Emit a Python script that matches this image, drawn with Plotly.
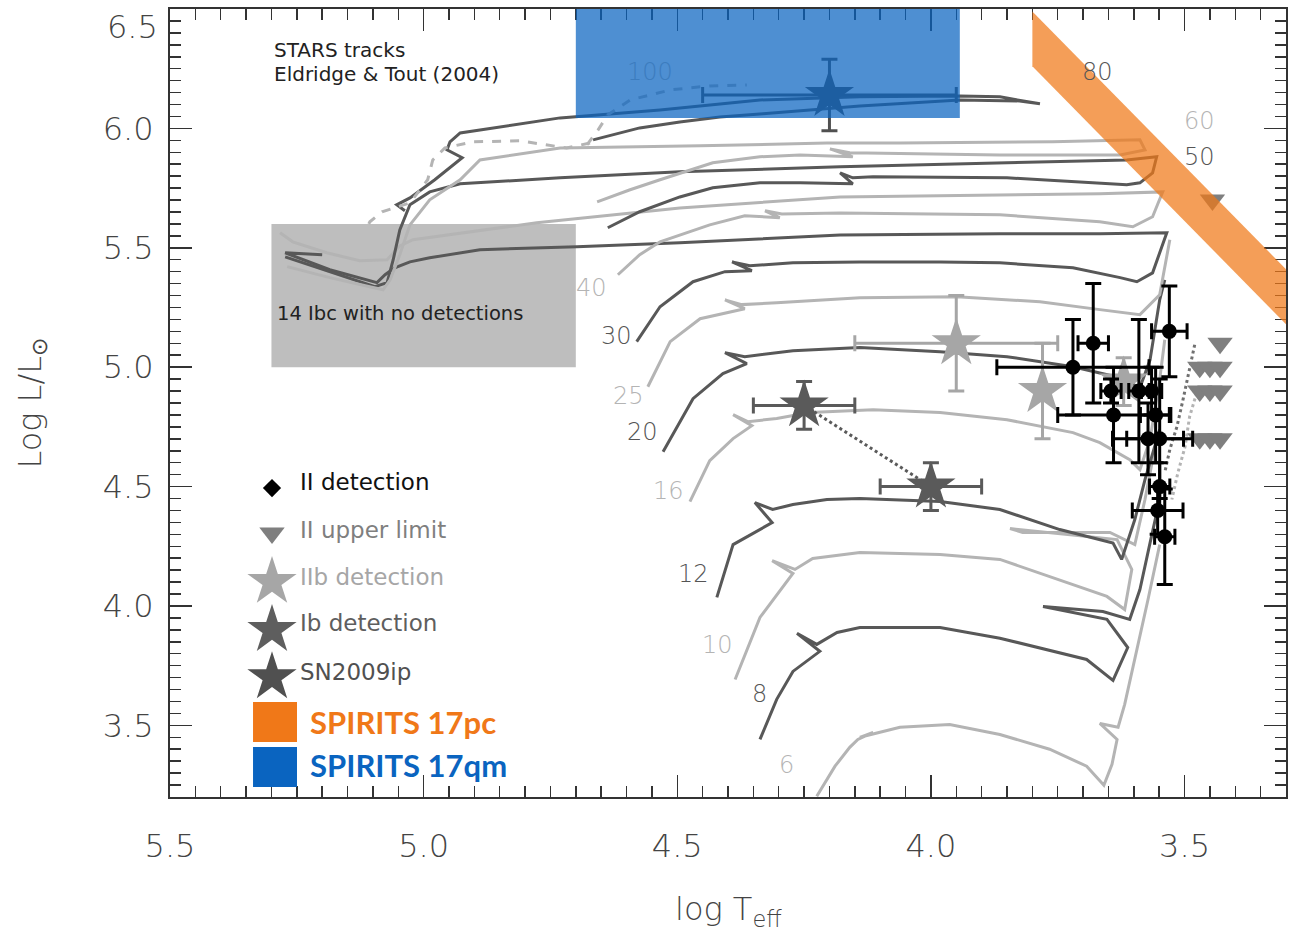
import plotly.graph_objects as go

# ---------------- data ----------------
X_TICKS = [5.5, 5.0, 4.5, 4.0, 3.5]
Y_TICKS = [3.5, 4.0, 4.5, 5.0, 5.5, 6.0]
TOP_Y_LABEL = "6.5"

# STARS evolutionary tracks (log Teff, log L/Lsun), Eldridge & Tout (2004)
M6_T = [4.225, 4.189, 4.160, 4.144, 4.114, 4.140, 4.061, 3.963, 3.864, 3.766, 3.693, 3.659, 3.643, 3.633, 3.667, 3.631, 3.618, 3.598, 3.572, 3.549]
M6_L = [3.203, 3.329, 3.408, 3.441, 3.471, 3.450, 3.492, 3.504, 3.462, 3.400, 3.329, 3.249, 3.337, 3.441, 3.508, 3.492, 3.588, 3.776, 4.027, 4.257]

M8_T = [4.337, 4.304, 4.272, 4.219, 4.264, 4.225, 4.185, 4.140, 3.982, 3.864, 3.693, 3.641, 3.612, 3.653, 3.779, 3.661, 3.608, 3.588, 3.568, 3.549]
M8_L = [3.441, 3.609, 3.726, 3.810, 3.885, 3.839, 3.889, 3.910, 3.910, 3.865, 3.776, 3.688, 3.826, 3.944, 3.998, 3.977, 3.944, 4.069, 4.264, 4.446]

M10_T = [4.386, 4.337, 4.272, 4.313, 4.268, 4.233, 4.140, 3.982, 3.864, 3.653, 3.618, 3.604, 3.633, 3.844, 3.819, 3.647, 3.598, 3.578, 3.559]
M10_L = [3.692, 3.952, 4.136, 4.190, 4.153, 4.199, 4.224, 4.216, 4.195, 4.040, 3.985, 4.153, 4.278, 4.324, 4.308, 4.308, 4.257, 4.446, 4.655]

M12_T = [4.422, 4.390, 4.313, 4.347, 4.312, 4.272, 4.205, 4.140, 3.982, 3.864, 3.746, 3.641, 3.624, 3.598, 3.578, 3.549]
M12_L = [4.036, 4.257, 4.349, 4.433, 4.404, 4.425, 4.446, 4.450, 4.437, 4.404, 4.320, 4.264, 4.195, 4.362, 4.529, 4.739]

M16_T = [4.475, 4.436, 4.390, 4.353, 4.390, 4.361, 4.304, 4.239, 4.114, 3.982, 3.850, 3.720, 3.667, 3.608, 3.588, 3.568, 3.549, 3.539]
M16_L = [4.437, 4.609, 4.701, 4.755, 4.801, 4.772, 4.785, 4.810, 4.822, 4.810, 4.780, 4.726, 4.684, 4.613, 4.571, 4.697, 4.948, 5.115]

M20_T = [4.528, 4.469, 4.410, 4.363, 4.406, 4.367, 4.272, 4.140, 3.982, 3.850, 3.720, 3.627, 3.588, 3.568, 3.549, 3.539]
M20_L = [4.646, 4.868, 4.973, 5.015, 5.061, 5.044, 5.069, 5.082, 5.065, 5.044, 5.002, 4.956, 4.914, 5.031, 5.282, 5.366]

M25_T = [4.558, 4.514, 4.455, 4.367, 4.406, 4.373, 4.304, 4.140, 3.949, 3.785, 3.667, 3.588, 3.549, 3.529]
M25_L = [4.918, 5.107, 5.203, 5.245, 5.282, 5.262, 5.270, 5.291, 5.295, 5.274, 5.241, 5.220, 5.303, 5.534]

M30_T = [4.580, 4.534, 4.469, 4.406, 4.353, 4.392, 4.357, 4.272, 4.140, 3.982, 3.864, 3.720, 3.627, 3.594, 3.563, 3.535,
         3.667, 3.864, 4.179, 4.495, 4.698, 4.889, 4.988, 5.027, 5.057, 5.076, 5.092, 5.185, 5.273, 5.200]
M30_L = [5.107, 5.253, 5.358, 5.400, 5.404, 5.441, 5.425, 5.437, 5.441, 5.441, 5.437, 5.416, 5.375, 5.358, 5.395, 5.563,
         5.559, 5.559, 5.554, 5.521, 5.504, 5.492, 5.458, 5.441, 5.416, 5.387, 5.354, 5.408, 5.479, 5.471]

M40_T = [4.617, 4.574, 4.534, 4.436, 4.367, 4.298, 4.327, 4.294, 4.179, 3.864, 3.667, 3.602, 3.563, 3.543,
         3.667, 3.864, 4.179, 4.495, 4.777, 5.021, 5.047, 5.072, 5.126, 5.191, 5.258, 5.283]
M40_L = [5.387, 5.471, 5.525, 5.596, 5.634, 5.626, 5.655, 5.642, 5.646, 5.638, 5.609, 5.588, 5.630, 5.734,
         5.726, 5.722, 5.713, 5.667, 5.605, 5.534, 5.508, 5.450, 5.446, 5.479, 5.525, 5.563]

M50_T = [4.637, 4.574, 4.495, 4.430, 4.337, 4.258, 4.154, 4.179, 4.154, 4.114, 3.850, 3.614, 3.588, 3.563, 3.555,
         3.614, 3.850, 4.179, 4.495, 4.731, 4.928, 4.988, 5.027, 5.047, 5.060, 5.072, 5.096, 5.244, 5.273]
M50_L = [5.584, 5.651, 5.713, 5.751, 5.772, 5.772, 5.768, 5.814, 5.793, 5.797, 5.793, 5.764, 5.772, 5.814, 5.881,
         5.868, 5.856, 5.839, 5.818, 5.793, 5.768, 5.734, 5.680, 5.575, 5.450, 5.354, 5.337, 5.441, 5.462]

M60_T = [4.658, 4.593, 4.534, 4.430, 4.337, 4.258, 4.154, 4.199, 4.160, 3.864, 3.627, 3.578, 3.588,
         3.760, 4.061, 4.205, 4.455, 4.731, 4.889, 4.928, 4.988, 5.027, 5.047, 5.066, 5.080, 5.185, 5.269]
M60_L = [5.692, 5.743, 5.785, 5.856, 5.881, 5.889, 5.881, 5.914, 5.898, 5.889, 5.889, 5.910, 5.952,
         5.944, 5.939, 5.939, 5.927, 5.918, 5.868, 5.785, 5.701, 5.596, 5.471, 5.366, 5.324, 5.375, 5.421]

M80_T = [4.666, 4.574, 4.495, 4.416, 4.331, 4.140, 3.943, 3.825, 3.785,
         3.864, 3.943, 4.140, 4.337, 4.534, 4.731, 4.928, 4.948, 4.954, 4.924, 4.978, 5.027, 5.053, 5.037]
M80_L = [5.952, 6.002, 6.027, 6.048, 6.061, 6.094, 6.119, 6.115, 6.103,
         6.132, 6.136, 6.132, 6.119, 6.077, 6.044, 5.981, 5.944, 5.910, 5.877, 5.785, 5.709, 5.680, 5.655]

M100A_T = [4.678, 4.656, 4.637, 4.593, 4.514, 4.436, 4.363]
M100A_L = [5.931, 5.994, 6.057, 6.119, 6.161, 6.178, 6.182]
M100B_T = [4.672, 4.718, 4.810, 4.903, 4.958, 4.982, 4.992, 5.027, 5.082, 5.106, 5.116]
M100B_L = [5.939, 5.918, 5.948, 5.944, 5.918, 5.868, 5.785, 5.688, 5.651, 5.609, 5.567]

# track mass labels (text, logT, logL, shade)
LABEL_TEXT = ["100", "80", "60", "50", "40", "30", "25", "20", "16", "12", "10", "8", "6"]
LABEL_T = [4.554, 3.671, 3.470, 3.470, 4.670, 4.619, 4.597, 4.568, 4.518, 4.469, 4.420, 4.337, 4.284]
LABEL_L = [6.236, 6.236, 6.031, 5.881, 5.333, 5.132, 4.881, 4.730, 4.483, 4.132, 3.835, 3.630, 3.333]
LABEL_SHADE = ["blue", "dark", "light", "dark", "light", "dark", "light", "dark", "light", "dark", "light", "dark", "light"]

# SN II progenitor detections
II_T = [3.72, 3.68, 3.53, 3.645, 3.59, 3.64, 3.565, 3.557, 3.572, 3.549, 3.549, 3.553, 3.539]
II_L = [5.00, 5.10, 5.15, 4.90, 4.90, 4.80, 4.90, 4.80, 4.70, 4.70, 4.50, 4.40, 4.29]
II_TERR = [0.15, 0.03, 0.035, 0.02, 0.02, 0.11, 0.02, 0.03, 0.07, 0.065, 0.02, 0.05, 0.02]
II_LERR = [0.20, 0.25, 0.19, 0.05, 0.30, 0.20, 0.10, 0.20, 0.15, 0.25, 0.10, 0.10, 0.20]

# SN II upper limits
UL_T = [3.445, 3.43, 3.47, 3.45, 3.43, 3.47, 3.45, 3.43, 3.47, 3.45, 3.43]
UL_L = [5.70, 5.10, 5.00, 5.00, 5.00, 4.90, 4.90, 4.90, 4.70, 4.70, 4.70]

# dotted connectors near the upper limits
DOTA_T = [3.480, 3.490, 3.503, 3.515, 3.529, 3.539]
DOTA_L = [5.094, 4.990, 4.864, 4.751, 4.655, 4.559]
DOTB_T = [3.476, 3.490, 3.499, 3.513, 3.525]
DOTB_L = [4.893, 4.793, 4.667, 4.559, 4.446]

# SN IIb detections
IIB_T = [3.95, 3.78, 3.62]
IIB_L = [5.10, 4.90, 4.94]
IIB_TERR = [0.20, 0.0, 0.0]
IIB_LERR = [0.20, 0.20, 0.10]

# SN Ib detection (two solutions joined by dotted line)
IB_T = [4.25, 4.00]
IB_L = [4.84, 4.50]
IB_TERR = [0.10, 0.10]
IB_LERR = [0.10, 0.10]

# SN2009ip
IP_T = [4.20]
IP_L = [6.14]
IP_TERR = [0.25]
IP_LERR = [0.15]

# constraint regions
IBC_BOX_T = [5.30, 4.70]
IBC_BOX_L = [5.00, 5.60]
QM_BOX_T = [4.70, 3.943]
QM_BOX_L = [6.044, 6.50]
PC_BAND_T = [3.80, 3.30, 3.30, 3.80]
PC_BAND_L = [6.49, 5.41, 5.18, 6.26]

# ---------------- style ----------------
LIGHT = "#b4b4b4"
DARK = "#585858"
FONT = "DejaVu Sans"
ORANGE = "#f07818"
BLUE = "#0a64c0"
STAR_SIZE = 37

fig = go.Figure()

tracks = [
    (M6_T, M6_L, LIGHT, "solid"), (M8_T, M8_L, DARK, "solid"),
    (M10_T, M10_L, LIGHT, "solid"), (M12_T, M12_L, DARK, "solid"),
    (M16_T, M16_L, LIGHT, "solid"), (M20_T, M20_L, DARK, "solid"),
    (M25_T, M25_L, LIGHT, "solid"), (M30_T, M30_L, DARK, "solid"),
    (M40_T, M40_L, LIGHT, "solid"), (M50_T, M50_L, DARK, "solid"),
    (M60_T, M60_L, LIGHT, "solid"), (M80_T, M80_L, DARK, "solid"),
    (M100A_T, M100A_L, LIGHT, "dash"), (M100B_T, M100B_L, LIGHT, "dash"),
]
for t, l, c, d in tracks:
    fig.add_trace(go.Scatter(x=t, y=l, mode="lines", line=dict(color=c, width=3, dash=d),
                             hoverinfo="skip", showlegend=False))

# dotted connectors
fig.add_trace(go.Scatter(x=DOTA_T, y=DOTA_L, mode="lines", line=dict(color="#707070", width=3, dash="dot"), showlegend=False))
fig.add_trace(go.Scatter(x=DOTB_T, y=DOTB_L, mode="lines", line=dict(color="#b4b4b4", width=3, dash="dot"), showlegend=False))
fig.add_trace(go.Scatter(x=IB_T, y=IB_L, mode="lines", line=dict(color="#5a5a5a", width=3, dash="dot"), showlegend=False))

# upper limits
fig.add_trace(go.Scatter(x=UL_T, y=UL_L, mode="markers",
                         marker=dict(symbol="triangle-down", size=22, color="#7f7f7f", line=dict(width=0)),
                         showlegend=False))

# IIb
fig.add_trace(go.Scatter(x=IIB_T, y=IIB_L, mode="markers",
                         marker=dict(symbol="star", size=STAR_SIZE, color="#a6a6a6", line=dict(width=0)),
                         error_x=dict(type="data", array=IIB_TERR, color="#a6a6a6", thickness=3, width=8),
                         error_y=dict(type="data", array=IIB_LERR, color="#a6a6a6", thickness=3, width=8),
                         showlegend=False))
# Ib
fig.add_trace(go.Scatter(x=IB_T, y=IB_L, mode="markers",
                         marker=dict(symbol="star", size=STAR_SIZE, color="#5a5a5a", line=dict(width=0)),
                         error_x=dict(type="data", array=IB_TERR, color="#5a5a5a", thickness=3, width=8),
                         error_y=dict(type="data", array=IB_LERR, color="#5a5a5a", thickness=3, width=8),
                         showlegend=False))
# SN2009ip
fig.add_trace(go.Scatter(x=IP_T, y=IP_L, mode="markers",
                         marker=dict(symbol="star", size=STAR_SIZE, color="#505050", line=dict(width=0)),
                         error_x=dict(type="data", array=IP_TERR, color="#505050", thickness=3, width=8),
                         error_y=dict(type="data", array=IP_LERR, color="#505050", thickness=3, width=8),
                         showlegend=False))
# II detections
fig.add_trace(go.Scatter(x=II_T, y=II_L, mode="markers",
                         marker=dict(symbol="circle", size=15, color="black", line=dict(width=0)),
                         error_x=dict(type="data", array=II_TERR, color="black", thickness=3, width=8),
                         error_y=dict(type="data", array=II_LERR, color="black", thickness=3, width=8),
                         showlegend=False))

# ---------------- legend (manual, overlay axes in plot-fraction units) ----------------
LEG_X = 0.0914
LEG_TEXT_X = 0.1147
legend_rows = [
    ("II detection", "diamond", 14, "black", "#111111", 0.392, 0.400),
    ("II upper limit", "triangle-down", 22, "#7f7f7f", "#7f7f7f", 0.335, 0.339),
    ("IIb detection", "star", STAR_SIZE, "#a6a6a6", "#a6a6a6", 0.273, 0.279),
    ("Ib detection", "star", STAR_SIZE, "#5e5e5e", "#5e5e5e", 0.212, 0.221),
    ("SN2009ip", "star", STAR_SIZE, "#505050", "#505050", 0.152, 0.159),
]
for text, sym, sz, mcol, tcol, ym, yt in legend_rows:
    fig.add_trace(go.Scatter(x=[LEG_X], y=[ym], xaxis="x2", yaxis="y2", mode="markers",
                             marker=dict(symbol=sym, size=sz, color=mcol, line=dict(width=0)),
                             showlegend=False, hoverinfo="skip"))

annotations = []
for text, sym, sz, mcol, tcol, ym, yt in legend_rows:
    annotations.append(dict(text=text, x=LEG_TEXT_X, y=yt, xref="paper", yref="paper",
                            xanchor="left", yanchor="middle", showarrow=False,
                            font=dict(family=FONT, size=23, color=tcol, weight=400)))
annotations.append(dict(text="<b>SPIRITS 17pc</b>", x=0.1237, y=0.0952, xref="paper", yref="paper",
                        xanchor="left", yanchor="middle", showarrow=False,
                        font=dict(family="Lato", size=31, color=ORANGE)))
annotations.append(dict(text="<b>SPIRITS 17qm</b>", x=0.1237, y=0.0406, xref="paper", yref="paper",
                        xanchor="left", yanchor="middle", showarrow=False,
                        font=dict(family="Lato", size=31, color=BLUE)))

# text blocks
annotations.append(dict(text="STARS tracks", x=0.0914, y=0.948, xref="paper", yref="paper",
                        xanchor="left", yanchor="middle", showarrow=False,
                        font=dict(family=FONT, size=20, color="#222222", weight=400)))
annotations.append(dict(text="Eldridge & Tout (2004)", x=0.0914, y=0.918, xref="paper", yref="paper",
                        xanchor="left", yanchor="middle", showarrow=False,
                        font=dict(family=FONT, size=20, color="#222222", weight=400)))
annotations.append(dict(text="14 Ibc with no detections", x=0.094, y=0.614, xref="paper", yref="paper",
                        xanchor="left", yanchor="middle", showarrow=False,
                        font=dict(family=FONT, size=19.5, color="#222222", weight=400)))

shade_col = {"dark": "#555555", "light": "#b4b4b4", "blue": "#3c7cbe"}
for txt, t, l, s in zip(LABEL_TEXT, LABEL_T, LABEL_L, LABEL_SHADE):
    annotations.append(dict(text=txt, x=t, y=l, xref="x", yref="y", showarrow=False,
                            xanchor="center", yanchor="middle",
                            font=dict(family=FONT, size=24, color=shade_col[s], weight=300)))

# axis titles and top y label
annotations.append(dict(text="log T<sub>eff</sub>", x=0.5, y=-0.145, xref="paper", yref="paper",
                        xanchor="center", yanchor="middle", showarrow=False,
                        font=dict(family=FONT, size=32, color="#444444", weight=300)))
annotations.append(dict(text="Log L/L<sub>⊙</sub>", x=-0.124, y=0.5, xref="paper", yref="paper",
                        xanchor="center", yanchor="middle", textangle=-90, showarrow=False,
                        font=dict(family=FONT, size=32, color="#444444", weight=300)))
annotations.append(dict(text=TOP_Y_LABEL, x=-0.009, y=1.0, yshift=-18, xref="paper", yref="paper",
                        xanchor="right", yanchor="middle", showarrow=False,
                        font=dict(family=FONT, size=32, color="#444444", weight=300)))

shapes = [
    dict(type="rect", xref="x", yref="y", x0=IBC_BOX_T[0], x1=IBC_BOX_T[1], y0=IBC_BOX_L[0], y1=IBC_BOX_L[1],
         fillcolor="#bebebe", line=dict(width=0), layer="below"),
    dict(type="rect", xref="x", yref="y", x0=QM_BOX_T[0], x1=QM_BOX_T[1], y0=QM_BOX_L[0], y1=QM_BOX_L[1],
         fillcolor="rgba(10,100,192,0.72)", line=dict(width=0), layer="above"),
    dict(type="path", xref="x", yref="y",
         path="M " + " L ".join(f"{t},{l}" for t, l in zip(PC_BAND_T, PC_BAND_L)) + " Z",
         fillcolor="rgba(240,120,24,0.72)", line=dict(width=0), layer="above"),
    dict(type="rect", xref="paper", yref="paper", x0=0.0744, x1=0.1138, y0=0.0698, y1=0.1206,
         fillcolor=ORANGE, line=dict(width=0)),
    dict(type="rect", xref="paper", yref="paper", x0=0.0744, x1=0.1138, y0=0.0127, y1=0.0635,
         fillcolor=BLUE, line=dict(width=0)),
]

axis_common = dict(ticks="inside", ticklen=22, tickwidth=1.5, tickcolor="#333333",
                   mirror="allticks", showline=True, linecolor="#333333", linewidth=2,
                   showgrid=False, zeroline=False,
                   minor=dict(ticks="inside", ticklen=11, tickwidth=1.5, tickcolor="#333333", dtick=0.05),
                   tickfont=dict(family=FONT, size=32, color="#444444", weight=300))

fig.update_layout(
    width=1289, height=932,
    margin=dict(l=170, r=3, t=9, b=135, autoexpand=False),
    paper_bgcolor="white", plot_bgcolor="white",
    xaxis=dict(range=[5.5, 3.3], tickvals=X_TICKS, ticktext=[f"{v:.1f}" for v in X_TICKS],
               ticklabelstandoff=20, **axis_common),
    yaxis=dict(range=[3.2, 6.5], tickvals=Y_TICKS, ticktext=[f"{v:.1f}" for v in Y_TICKS],
               ticklabelstandoff=8, **axis_common),
    xaxis2=dict(range=[0, 1], overlaying="x", visible=False, domain=[0, 1]),
    yaxis2=dict(range=[0, 1], overlaying="y", visible=False, domain=[0, 1]),
    shapes=shapes,
    annotations=annotations,
    showlegend=False,
)

fig.write_html("out.html", config={"displayModeBar": False, "staticPlot": True},
               post_script="document.body.style.margin='0px';document.body.style.overflow='hidden';")
